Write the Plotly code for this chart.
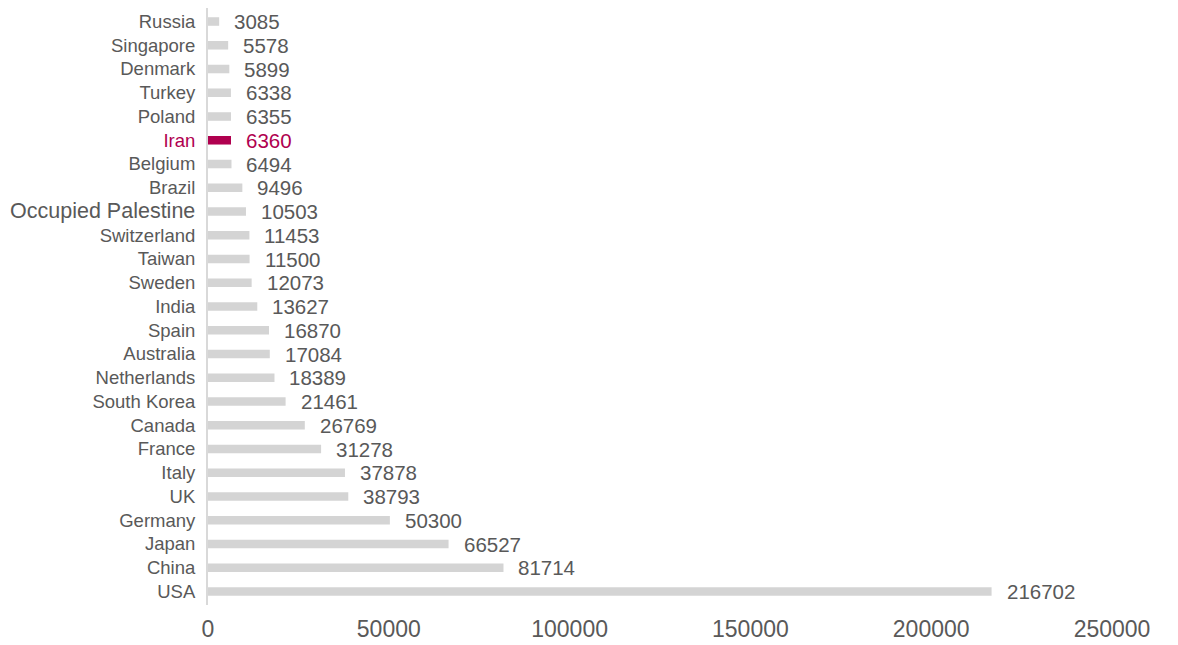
import plotly.graph_objects as go

countries = ["Russia", "Singapore", "Denmark", "Turkey", "Poland", "Iran", "Belgium", "Brazil",
             "Occupied Palestine", "Switzerland", "Taiwan", "Sweden", "India", "Spain", "Australia",
             "Netherlands", "South Korea", "Canada", "France", "Italy", "UK", "Germany", "Japan",
             "China", "USA"]
values = [3085, 5578, 5899, 6338, 6355, 6360, 6494, 9496, 10503, 11453, 11500, 12073, 13627,
          16870, 17084, 18389, 21461, 26769, 31278, 37878, 38793, 50300, 66527, 81714, 216702]
x_ticks = [0, 50000, 100000, 150000, 200000, 250000]
highlight = "Iran"

GRAY = "#d4d4d4"
RED = "#b0004f"
TXT = "#595959"

colors = [RED if c == highlight else GRAY for c in countries]

ticktext = []
for c in countries:
    if c == highlight:
        ticktext.append(f'<span style="color:{RED}">{c}</span>')
    elif c == "Occupied Palestine":
        ticktext.append(f'<span style="font-size:21.5px">{c}</span>')
    else:
        ticktext.append(c)

fig = go.Figure(go.Bar(
    x=values, y=countries, orientation="h",
    marker=dict(color=colors, line=dict(width=0)),
    width=0.36, hoverinfo="x+y",
))

for c, v in zip(countries, values):
    fig.add_annotation(x=v, y=c, text=str(v), showarrow=False, xanchor="left", yanchor="middle",
                       xshift=13, font=dict(size=20.5, color=RED if c == highlight else TXT,
                                            family="Liberation Sans, Arial"))

fig.update_layout(
    width=1178, height=645,
    margin=dict(l=208, r=66, t=8, b=40),
    paper_bgcolor="white", plot_bgcolor="white",
    font=dict(family="Liberation Sans, Arial", color=TXT),
    showlegend=False,
)
fig.update_xaxes(range=[0, 250000], tickvals=x_ticks, ticktext=[str(t) for t in x_ticks],
                 showgrid=False, zeroline=False, showline=False, ticks="", automargin=False,
                 tickfont=dict(size=23, color=TXT), ticklabelstandoff=8)
fig.update_yaxes(autorange="reversed", tickvals=countries, ticktext=ticktext, automargin=False,
                 showgrid=False, zeroline=False, showline=True, linecolor="#d9d9d9", linewidth=2,
                 ticks="", tickfont=dict(size=18.5, color=TXT), ticklabelstandoff=7)

fig.write_html("out.html")
